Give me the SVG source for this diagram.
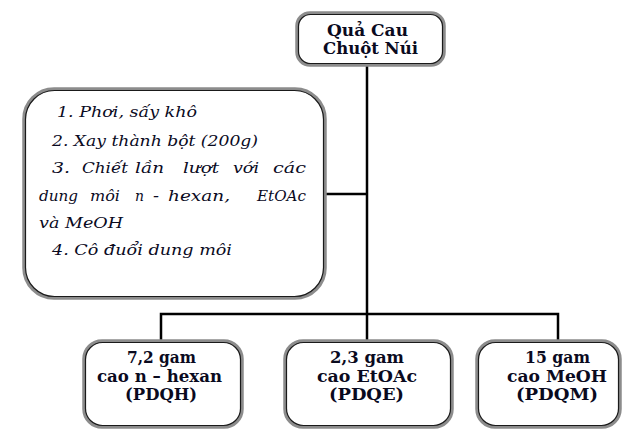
<svg xmlns="http://www.w3.org/2000/svg" width="624" height="429" viewBox="0 0 624 429">
  <style>
    .outer { fill: #ffffff; stroke: #8c8c8c; stroke-width: 3.5; }
    .inner { fill: none; stroke: #1a1a1a; stroke-width: 1.2; }
    .conn { fill: none; stroke: #000000; stroke-width: 2.5; }
    .bold { font-family: 'DejaVu Serif', serif; font-weight: bold; font-size: 16px; fill: #0a0a1e; }
    .ital { font-family: 'DejaVu Serif', serif; font-style: italic; font-size: 14px; fill: #0a0a1e; }
  </style>
  <rect width="624" height="429" fill="#ffffff"/>

  <g id="connectors">
    <path class="conn" d="M367,65 V340"/>
    <path class="conn" d="M323,194 H367"/>
    <path class="conn" d="M161,340 V314 H558 V340"/>
  </g>

  <g id="node-top">
    <rect class="outer" x="297" y="13" width="147" height="52" rx="13"/>
    <rect class="inner" x="298.5" y="14.5" width="144" height="49" rx="12"/>
    <text class="bold" x="327" y="36" textLength="81" lengthAdjust="spacingAndGlyphs">Quả Cau</text>
    <text class="bold" x="323" y="54" textLength="95" lengthAdjust="spacingAndGlyphs">Chuột Núi</text>
  </g>

  <g id="node-steps">
    <rect class="outer" x="24" y="89" width="301" height="209" rx="30"/>
    <rect class="inner" x="25.5" y="90.5" width="298" height="206" rx="29"/>
    <text class="ital" x="57" y="117" textLength="140" lengthAdjust="spacingAndGlyphs">1. Phơi, sấy khô</text>
    <text class="ital" x="52" y="146" textLength="206" lengthAdjust="spacingAndGlyphs">2. Xay thành bột (200g)</text>
    <text class="ital" x="52" y="173" textLength="18" lengthAdjust="spacingAndGlyphs">3.</text>
    <text class="ital" x="82" y="173" textLength="46" lengthAdjust="spacingAndGlyphs">Chiết</text>
    <text class="ital" x="135" y="173" textLength="29" lengthAdjust="spacingAndGlyphs">lần</text>
    <text class="ital" x="183" y="173" textLength="36" lengthAdjust="spacingAndGlyphs">lượt</text>
    <text class="ital" x="233" y="173" textLength="26" lengthAdjust="spacingAndGlyphs">với</text>
    <text class="ital" x="273" y="173" textLength="33" lengthAdjust="spacingAndGlyphs">các</text>
    <text class="ital" x="39" y="201" textLength="39" lengthAdjust="spacingAndGlyphs">dung</text>
    <text class="ital" x="90" y="201" textLength="30" lengthAdjust="spacingAndGlyphs">môi</text>
    <text class="ital" x="135" y="201" textLength="9" lengthAdjust="spacingAndGlyphs">n</text>
    <text class="ital" x="153" y="201" textLength="6" lengthAdjust="spacingAndGlyphs">-</text>
    <text class="ital" x="168" y="201" textLength="62" lengthAdjust="spacingAndGlyphs">hexan,</text>
    <text class="ital" x="257" y="201" textLength="49" lengthAdjust="spacingAndGlyphs">EtOAc</text>
    <text class="ital" x="39" y="228" textLength="84" lengthAdjust="spacingAndGlyphs">và MeOH</text>
    <text class="ital" x="52" y="255" textLength="180" lengthAdjust="spacingAndGlyphs">4. Cô đuổi dung môi</text>
  </g>

  <g id="node-hexan">
    <rect class="outer" x="84" y="341" width="158" height="86" rx="18"/>
    <rect class="inner" x="85.5" y="342.5" width="155" height="83" rx="17"/>
    <text class="bold" x="127" y="363" textLength="69" lengthAdjust="spacingAndGlyphs">7,2 gam</text>
    <text class="bold" x="97" y="382" textLength="125" lengthAdjust="spacingAndGlyphs">cao n – hexan</text>
    <text class="bold" x="125" y="400" textLength="72" lengthAdjust="spacingAndGlyphs">(PDQH)</text>
  </g>

  <g id="node-etoac">
    <rect class="outer" x="285" y="341" width="167" height="86" rx="18"/>
    <rect class="inner" x="286.5" y="342.5" width="164" height="83" rx="17"/>
    <text class="bold" x="330" y="363" textLength="74" lengthAdjust="spacingAndGlyphs">2,3 gam</text>
    <text class="bold" x="317" y="382" textLength="100" lengthAdjust="spacingAndGlyphs">cao EtOAc</text>
    <text class="bold" x="329" y="400" textLength="75" lengthAdjust="spacingAndGlyphs">(PDQE)</text>
  </g>

  <g id="node-meoh">
    <rect class="outer" x="477" y="341" width="143" height="86" rx="18"/>
    <rect class="inner" x="478.5" y="342.5" width="140" height="83" rx="17"/>
    <text class="bold" x="525" y="363" textLength="65" lengthAdjust="spacingAndGlyphs">15 gam</text>
    <text class="bold" x="507" y="382" textLength="100" lengthAdjust="spacingAndGlyphs">cao MeOH</text>
    <text class="bold" x="516" y="400" textLength="82" lengthAdjust="spacingAndGlyphs">(PDQM)</text>
  </g>
</svg>
